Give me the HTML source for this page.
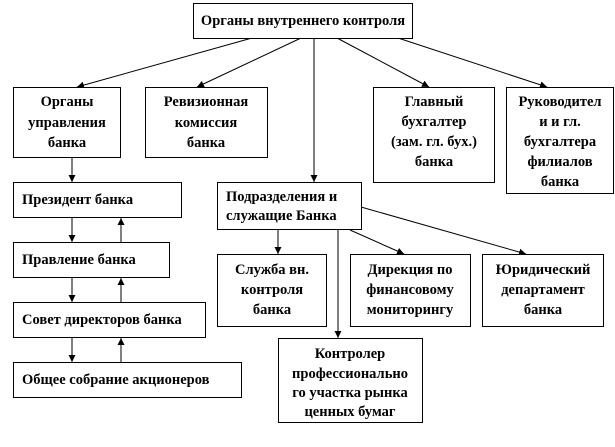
<!DOCTYPE html>
<html><head><meta charset="utf-8"><style>
html,body{margin:0;padding:0;background:#fff;}
svg{display:block;}
text{font-family:"Liberation Serif",serif;font-weight:bold;font-size:14.5px;fill:#000;}
rect{fill:#fff;stroke:#000;stroke-width:1;}
line{stroke:#000;stroke-width:1;}
</style></head><body>
<svg width="615" height="447" viewBox="0 0 615 447" xmlns="http://www.w3.org/2000/svg">
<defs><marker id="a" markerWidth="8" markerHeight="8" refX="7" refY="4" orient="auto" markerUnits="userSpaceOnUse"><path d="M0,0.5 L7,4 L0,7.5 z" fill="#000"/></marker></defs>
<line x1="252" y1="38" x2="77" y2="87" marker-end="url(#a)"/>
<line x1="301" y1="38" x2="197" y2="87" marker-end="url(#a)"/>
<line x1="314" y1="38" x2="314" y2="182" marker-end="url(#a)"/>
<line x1="337" y1="38" x2="429" y2="87" marker-end="url(#a)"/>
<line x1="398" y1="38" x2="547" y2="87" marker-end="url(#a)"/>
<line x1="72" y1="157" x2="72" y2="182" marker-end="url(#a)"/>
<line x1="72" y1="218" x2="72" y2="242" marker-end="url(#a)"/>
<line x1="121" y1="242" x2="121" y2="218" marker-end="url(#a)"/>
<line x1="72" y1="278" x2="72" y2="302" marker-end="url(#a)"/>
<line x1="121" y1="302" x2="121" y2="278" marker-end="url(#a)"/>
<line x1="72" y1="338" x2="72" y2="362" marker-end="url(#a)"/>
<line x1="121" y1="362" x2="121" y2="338" marker-end="url(#a)"/>
<line x1="278" y1="230" x2="278" y2="254" marker-end="url(#a)"/>
<line x1="350" y1="230" x2="404" y2="254" marker-end="url(#a)"/>
<line x1="361" y1="207" x2="526" y2="254" marker-end="url(#a)"/>
<line x1="338" y1="230" x2="338" y2="338" marker-end="url(#a)"/>

<rect x="193.5" y="3.5" width="219" height="35"/>
<text x="303" y="25" text-anchor="middle">Органы внутреннего контроля</text>

<rect x="13.5" y="87.5" width="107" height="70"/>
<text text-anchor="middle"><tspan x="67" y="106">Органы</tspan><tspan x="67" y="127">управления</tspan><tspan x="67" y="147">банка</tspan></text>

<rect x="145.5" y="87.5" width="122" height="70"/>
<text text-anchor="middle"><tspan x="206" y="106">Ревизионная</tspan><tspan x="206" y="127">комиссия</tspan><tspan x="206" y="147">банка</tspan></text>

<rect x="373.5" y="87.5" width="121" height="95"/>
<text text-anchor="middle"><tspan x="434" y="106">Главный</tspan><tspan x="434" y="126">бухгалтер</tspan><tspan x="434" y="146">(зам. гл. бух.)</tspan><tspan x="434" y="166">банка</tspan></text>

<rect x="506.5" y="87.5" width="107" height="106"/>
<text text-anchor="middle"><tspan x="560" y="106">Руководител</tspan><tspan x="560" y="126">и и гл.</tspan><tspan x="560" y="146">бухгалтера</tspan><tspan x="560" y="166">филиалов</tspan><tspan x="560" y="186">банка</tspan></text>

<rect x="13.5" y="182.5" width="168" height="35"/>
<text x="22" y="204">Президент банка</text>
<rect x="13.5" y="242.5" width="156" height="35"/>
<text x="22" y="264">Правление банка</text>
<rect x="13.5" y="302.5" width="192" height="35"/>
<text x="22" y="324">Совет директоров банка</text>
<rect x="13.5" y="362.5" width="228" height="35"/>
<text x="22" y="384">Общее собрание акционеров</text>

<rect x="217.5" y="182.5" width="144" height="47"/>
<text><tspan x="226" y="201">Подразделения и</tspan><tspan x="226" y="220">служащие Банка</tspan></text>

<rect x="217.5" y="254.5" width="109" height="72"/>
<text text-anchor="middle"><tspan x="272" y="274">Служба вн.</tspan><tspan x="272" y="294">контроля</tspan><tspan x="272" y="314">банка</tspan></text>

<rect x="350.5" y="254.5" width="120" height="72"/>
<text text-anchor="middle"><tspan x="410" y="274">Дирекция по</tspan><tspan x="410" y="294">финансовому</tspan><tspan x="410" y="314">мониторингу</tspan></text>

<rect x="482.5" y="254.5" width="121" height="72"/>
<text text-anchor="middle"><tspan x="543" y="274">Юридический</tspan><tspan x="543" y="294">департамент</tspan><tspan x="543" y="314">банка</tspan></text>

<rect x="278.5" y="338.5" width="144" height="84"/>
<text text-anchor="middle"><tspan x="350" y="358">Контролер</tspan><tspan x="350" y="378">профессионально</tspan><tspan x="350" y="397">го участка рынка</tspan><tspan x="350" y="416">ценных бумаг</tspan></text>
</svg>
</body></html>
